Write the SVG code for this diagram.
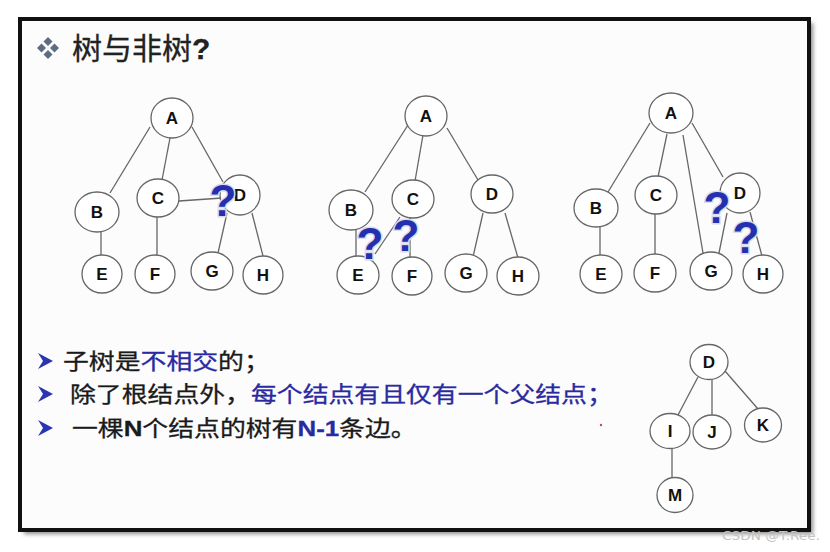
<svg xmlns="http://www.w3.org/2000/svg" width="830" height="552" viewBox="0 0 830 552">
<style>
.n ellipse{fill:#fff;stroke:#666;stroke-width:1.3}
.n text{font-family:"Liberation Sans",Arial,sans-serif;font-weight:bold;font-size:17px;fill:#111;text-anchor:middle}
.e line{stroke:#666;stroke-width:1.3}
.q{font-family:"Liberation Sans",Arial,sans-serif;font-weight:bold;font-size:44px;fill:#2430b0;stroke:#d8dcec;stroke-width:3;paint-order:stroke;text-anchor:middle}
.t{font-family:"Noto Sans CJK SC","Noto Sans",sans-serif;font-size:22px;fill:#1a1a1a;stroke:#1a1a1a;stroke-width:0.3}
.b{fill:#2a2aa0;stroke:#2a2aa0}
.bd{font-family:"Liberation Sans",Arial,sans-serif;font-weight:bold}
.arr{fill:#2a35b0}
</style>
<defs>
<filter id="sh" x="-5%" y="-5%" width="110%" height="110%"><feGaussianBlur stdDeviation="2"/></filter>
</defs>
<rect x="0" y="0" width="830" height="552" fill="#fff"/>
<rect x="24" y="23" width="789" height="511" fill="#8a8a8a" filter="url(#sh)"/>
<rect x="20" y="19" width="789" height="511" fill="#fcfcfc" stroke="#111" stroke-width="4"/>
<g id="title">
<g fill="#5d6d7e">
<polygon points="48,37 52.5,41.5 48,46 43.5,41.5"/>
<polygon points="48,50 52.5,54.5 48,59 43.5,54.5"/>
<polygon points="41.5,43.5 46,48 41.5,52.5 37,48"/>
<polygon points="54.5,43.5 59,48 54.5,52.5 50,48"/>
</g>
<text x="72" y="59" font-family="'Noto Sans CJK SC','Noto Sans',sans-serif" font-size="30" fill="#222" stroke="#222" stroke-width="0.3">树与非树<tspan font-family="'Liberation Sans',Arial,sans-serif" font-weight="bold">?</tspan></text>
</g>
<g id="connectors" class="e">
<line x1="150" y1="127" x2="110" y2="193"/>
<line x1="170" y1="138" x2="162" y2="180"/>
<line x1="192" y1="127" x2="223" y2="182"/>
<line x1="179" y1="201" x2="222" y2="198"/>
<line x1="101" y1="232" x2="101" y2="255"/>
<line x1="157" y1="217" x2="157" y2="256"/>
<line x1="227" y1="213" x2="218" y2="253"/>
<line x1="252" y1="213" x2="263" y2="256"/>
<line x1="408" y1="125" x2="365" y2="192"/>
<line x1="423" y1="135" x2="415" y2="181"/>
<line x1="447" y1="128" x2="478" y2="180"/>
<line x1="356" y1="230" x2="356" y2="256"/>
<line x1="400" y1="217" x2="375" y2="254"/>
<line x1="410" y1="218" x2="410" y2="258"/>
<line x1="483" y1="213" x2="473" y2="257"/>
<line x1="505" y1="213" x2="518" y2="258"/>
<line x1="650" y1="123" x2="608" y2="192"/>
<line x1="667" y1="134" x2="658" y2="177"/>
<line x1="683" y1="135" x2="703" y2="253"/>
<line x1="692" y1="123" x2="723" y2="177"/>
<line x1="600" y1="227" x2="600" y2="257"/>
<line x1="655" y1="213" x2="655" y2="255"/>
<line x1="727" y1="213" x2="719" y2="253"/>
<line x1="750" y1="212" x2="762" y2="256"/>
<line x1="698" y1="377" x2="678" y2="415"/>
<line x1="712" y1="379" x2="712" y2="415"/>
<line x1="725" y1="371" x2="758" y2="409"/>
<line x1="672" y1="448" x2="672" y2="478"/>
</g>
<g id="t1A" class="n"><ellipse cx="172" cy="118" rx="21" ry="20"/><text x="172" y="124">A</text></g>
<g id="t1B" class="n"><ellipse cx="97" cy="212" rx="22" ry="20"/><text x="97" y="218">B</text></g>
<g id="t1C" class="n"><ellipse cx="158" cy="198" rx="21" ry="19"/><text x="158" y="204">C</text></g>
<g id="t1D" class="n"><ellipse cx="240" cy="195" rx="20" ry="20"/><text x="240" y="201">D</text></g>
<g id="t1E" class="n"><ellipse cx="102" cy="274" rx="20" ry="19"/><text x="102" y="280">E</text></g>
<g id="t1F" class="n"><ellipse cx="155" cy="274" rx="20" ry="19"/><text x="155" y="280">F</text></g>
<g id="t1G" class="n"><ellipse cx="212" cy="271" rx="21" ry="19"/><text x="212" y="277">G</text></g>
<g id="t1H" class="n"><ellipse cx="263" cy="275" rx="20" ry="19"/><text x="263" y="281">H</text></g>
<g id="t2A" class="n"><ellipse cx="426" cy="116" rx="21" ry="20"/><text x="426" y="122">A</text></g>
<g id="t2B" class="n"><ellipse cx="351" cy="210" rx="22" ry="20"/><text x="351" y="216">B</text></g>
<g id="t2C" class="n"><ellipse cx="413" cy="199" rx="21" ry="19"/><text x="413" y="205">C</text></g>
<g id="t2D" class="n"><ellipse cx="492" cy="194" rx="21" ry="19"/><text x="492" y="200">D</text></g>
<g id="t2E" class="n"><ellipse cx="358" cy="275" rx="21" ry="19"/><text x="358" y="281">E</text></g>
<g id="t2F" class="n"><ellipse cx="412" cy="276" rx="20" ry="19"/><text x="412" y="282">F</text></g>
<g id="t2G" class="n"><ellipse cx="466" cy="273" rx="21" ry="19"/><text x="466" y="279">G</text></g>
<g id="t2H" class="n"><ellipse cx="518" cy="276" rx="21" ry="19"/><text x="518" y="282">H</text></g>
<g id="t3A" class="n"><ellipse cx="671" cy="113" rx="22" ry="20"/><text x="671" y="119">A</text></g>
<g id="t3B" class="n"><ellipse cx="596" cy="208" rx="22" ry="19"/><text x="596" y="214">B</text></g>
<g id="t3C" class="n"><ellipse cx="656" cy="195" rx="21" ry="19"/><text x="656" y="201">C</text></g>
<g id="t3D" class="n"><ellipse cx="740" cy="193" rx="20" ry="20"/><text x="740" y="199">D</text></g>
<g id="t3E" class="n"><ellipse cx="601" cy="274" rx="21" ry="19"/><text x="601" y="280">E</text></g>
<g id="t3F" class="n"><ellipse cx="655" cy="273" rx="21" ry="19"/><text x="655" y="279">F</text></g>
<g id="t3G" class="n"><ellipse cx="711" cy="271" rx="21" ry="19"/><text x="711" y="277">G</text></g>
<g id="t3H" class="n"><ellipse cx="763" cy="274" rx="20" ry="19"/><text x="763" y="280">H</text></g>
<g id="t4D" class="n"><ellipse cx="709" cy="362" rx="19" ry="17.5"/><text x="709" y="368">D</text></g>
<g id="t4I" class="n"><ellipse cx="670" cy="431" rx="20" ry="17.5"/><text x="670" y="437">I</text></g>
<g id="t4J" class="n"><ellipse cx="712" cy="432" rx="19" ry="17"/><text x="712" y="438">J</text></g>
<g id="t4K" class="n"><ellipse cx="763" cy="425" rx="18.5" ry="17"/><text x="763" y="431">K</text></g>
<g id="t4M" class="n"><ellipse cx="675" cy="495" rx="18" ry="17.5"/><text x="675" y="501">M</text></g>
<g id="marks">
<text class="q" x="223" y="216">?</text>
<text class="q" x="370" y="259">?</text>
<text class="q" x="406" y="251">?</text>
<text class="q" x="717" y="223">?</text>
<text class="q" x="746" y="253">?</text>
</g>
<g id="bullets">
<polygon class="arr" points="38,353 53,361 38,369 43,361"/>
<polygon class="arr" points="38,386 53,394 38,402 43,394"/>
<polygon class="arr" points="38,420 53,428 38,436 43,428"/>
<g transform="translate(63,369) scale(1.175,1)"><text class="t" x="0" y="0">子树是<tspan class="b">不相交</tspan>的；</text></g>
<g transform="translate(70,402) scale(1.175,1)"><text class="t" x="0" y="0">除了根结点外，<tspan class="b">每个结点有且仅有一个父结点；</tspan></text></g>
<g transform="translate(72,436) scale(1.175,1)"><text class="t" x="0" y="0">一棵<tspan class="bd">N</tspan>个结点的树有<tspan class="bd b">N-1</tspan>条边。</text></g>
</g>
<circle cx="601" cy="425" r="1.2" fill="#d04848"/>
<text x="722" y="540" font-family="'DejaVu Sans',sans-serif" font-size="13" fill="#c4c4c4" textLength="98" lengthAdjust="spacingAndGlyphs">CSDN @T.Ree.</text>
</svg>
